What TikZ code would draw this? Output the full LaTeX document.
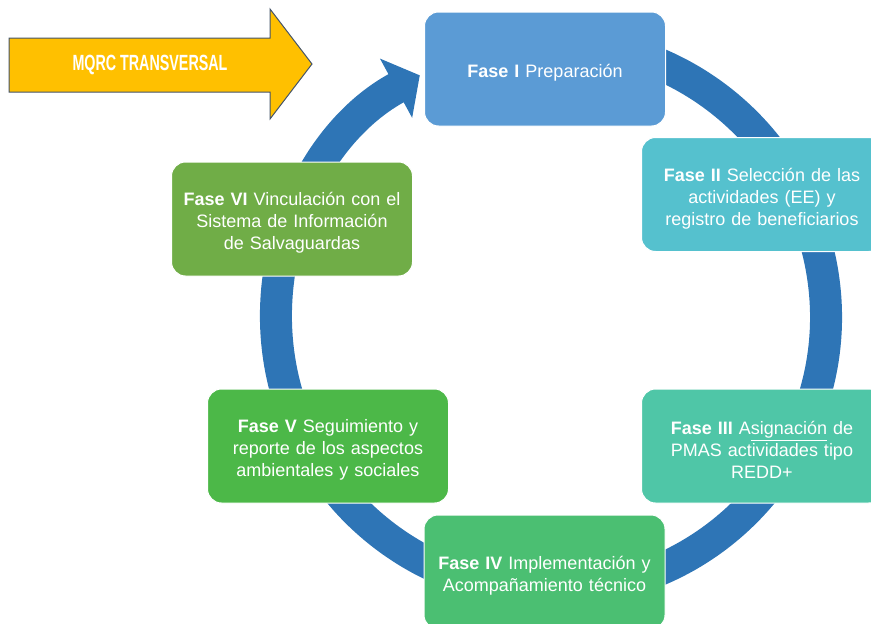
\documentclass[tikz,border=0pt]{standalone}
\usepackage{fontspec}
\setmainfont{Liberation Sans}
\newfontfamily\mqrcfont[FakeStretch=0.65]{Liberation Sans}
\usetikzlibrary{arrows.meta}

\definecolor{ringblue}{HTML}{2E75B6}
\definecolor{faseI}{HTML}{5B9BD5}
\definecolor{faseII}{HTML}{55C1CE}
\definecolor{faseIII}{HTML}{4FC6A7}
\definecolor{faseIV}{HTML}{4BBF72}
\definecolor{faseV}{HTML}{4CB848}
\definecolor{faseVI}{HTML}{70AD47}
\definecolor{mqrcyellow}{HTML}{FFC000}
\definecolor{mqrcline}{HTML}{44546A}

\tikzset{
  fase/.style={rectangle, rounded corners=14pt, draw=white, line width=1pt,
    minimum width=241pt, minimum height=114pt, text width=230pt, align=center,
    text=white, font=\fontsize{18pt}{22pt}\selectfont,
    execute at begin node={\rule{0pt}{21.5pt}}},
  ring/.style={ringblue, line width=32pt, -{Triangle[length=27pt,width=66pt]}}
}

\begin{document}
\begin{tikzpicture}[x=1pt,y=-1pt]
\useasboundingbox (0,0) rectangle (871,624);

% ciclo
\draw[ring] (551,317) ++(-100:275) arc[start angle=-100, end angle=241.5, radius=275];

% flecha transversal
\draw[fill=mqrcyellow, draw=mqrcline, line width=1pt]
  (9,38) -- (270,38) -- (270,9) -- (312,64) -- (270,119) -- (270,92) -- (9,92) -- cycle;
\node[text=white] (mqrc) at (150,65) {\mqrcfont\bfseries\fontsize{22pt}{24pt}\selectfont MQRC TRANSVERSAL};

\node[fase, fill=faseI] (f1) at (545,69) {\textbf{Fase I} Preparación};
\node[fase, fill=faseII] (f2) at (762,194.5) {\textbf{Fase II} Selección de las\\actividades (EE) y\\registro de beneficiarios};
\node[fase, fill=faseIII] (f3) at (762,446) {\textbf{Fase III} A\underline{signación} de\\PMAS actividades tipo\\REDD+};
\node[fase, fill=faseIV] (f4) at (544.5,572) {\textbf{Fase IV} Implementación y\\Acompañamiento técnico};
\node[fase, fill=faseV] (f5) at (328,446) {\textbf{Fase V} Seguimiento y\\reporte de los aspectos\\ambientales y sociales};
\node[fase, fill=faseVI] (f6) at (292,219) {\textbf{Fase VI} Vinculación con el\\Sistema de Información\\de Salvaguardas};
\end{tikzpicture}
\end{document}
